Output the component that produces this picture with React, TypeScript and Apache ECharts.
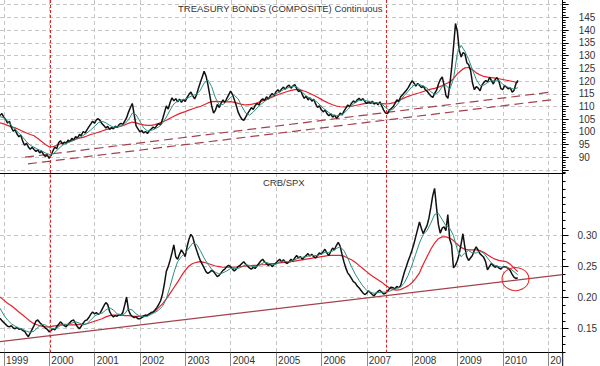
import React, { useEffect, useRef } from "react";
import * as echarts from "echarts";

// ---- axis extents (decimal years) ----
const X_MIN = 1998.912;
const X_MAX = 2011.317;
const SERIES_START = 1998.912;
const HALF_MONTH = 1 / 24;
const MONTH = 1 / 12;

const yearTicks = [1999, 2000, 2001, 2002, 2003, 2004, 2005, 2006, 2007, 2008, 2009, 2010, 2011];
const yearLabels = ["1999", "2000", "2001", "2002", "2003", "2004", "2005", "2006", "2007", "2008", "2009", "2010", "20"];

const tbondTicks = [85, 90, 95, 100, 105, 110, 115, 120, 125, 130, 135, 140, 145, 150];
const tbondLabels = [90, 95, 100, 105, 110, 115, 120, 125, 130, 135, 140, 145];
const crbTicks = [0.15, 0.2, 0.25, 0.3];
const crbLabels = [0.15, 0.2, 0.25, 0.3];

// vertical event markers (decimal years)
const markerYears = [2000.01, 2007.42];

// ---- TREASURY BONDS (semi-monthly) ----
const tbondPrice = [
  106.5, 107.2, 105.8, 104.9, 103.5, 104.2, 101.8, 100.3, 100.9, 99.2,
  98.1, 98.8, 96.4, 94.8, 95.6, 94.1, 93.2, 94.0, 93.1, 92.4,
  93.0, 91.8, 92.5, 91.2, 90.4, 91.0, 89.6, 90.8, 92.6, 94.1,
  93.4, 95.8, 96.6, 95.2, 96.0, 95.4, 96.8, 96.2, 97.5, 96.9,
  98.2, 97.6, 99.0, 98.6, 100.2, 99.6, 100.8, 102.0, 103.1, 104.2,
  103.4, 104.8, 105.2, 104.4, 103.2, 102.5, 101.6, 102.2, 101.0, 101.7,
  101.2, 102.3, 101.8, 102.9, 103.4, 103.0, 104.3, 105.6, 107.8, 109.6,
  111.2, 106.8, 102.4, 101.2, 100.0, 100.6, 99.6, 100.2, 99.4, 100.5,
  101.2, 101.9, 101.4, 102.6, 103.3, 102.8, 105.0, 107.6, 110.2, 109.0,
  111.6, 113.4, 112.2, 113.1, 111.8, 112.9, 111.6, 112.8, 112.0, 113.6,
  114.8, 115.7, 114.2, 113.0, 114.6, 117.2, 119.4, 121.6, 123.8, 122.0,
  118.6, 114.4, 110.2, 107.4, 108.6, 110.8, 109.6, 111.4, 112.6, 111.5,
  113.2, 114.6, 116.0, 114.8, 112.6, 110.4, 107.8, 106.2, 105.0, 104.6,
  105.8, 107.2, 108.4, 109.6, 108.8, 110.4, 111.2, 110.6, 112.3, 113.0,
  112.4, 113.8, 112.9, 114.2, 115.1, 114.3, 115.8, 116.6, 115.7, 116.9,
  117.6, 116.8, 117.9, 118.4, 117.2, 118.1, 118.6, 117.0, 115.8, 116.4,
  114.6, 113.2, 114.0, 112.6, 113.4, 112.1, 112.8, 111.0, 109.6, 110.3,
  108.7, 107.9, 108.6, 107.2, 106.4, 107.1, 105.8, 106.6, 105.4, 106.2,
  107.4, 106.7, 108.2, 109.4, 110.6, 110.0, 111.3, 112.2, 111.5, 112.6,
  113.2, 112.4, 113.1, 112.0, 111.2, 112.0, 111.3, 112.1, 110.9, 111.6,
  110.7, 111.8, 110.2, 108.6, 107.4, 107.2, 108.6, 109.2, 109.9, 111.2,
  112.6, 112.0, 113.8, 114.6, 115.5, 116.4, 117.4, 118.8, 120.1, 119.2,
  118.0, 119.0, 118.3, 117.4, 118.0, 116.6, 116.0, 115.0, 114.1, 113.6,
  115.2, 116.4, 118.8, 120.6, 121.6, 118.2, 114.2, 113.2, 118.6, 125.5,
  133.8, 142.6, 139.4, 132.0, 129.4, 131.2, 130.6, 127.2, 126.4, 124.0,
  119.2, 116.6, 117.8, 117.2, 116.2, 118.4, 119.4, 120.2, 119.6, 121.4,
  120.2, 118.8, 120.6, 121.4, 119.8, 117.0, 116.6, 118.2, 117.6, 116.9,
  117.3, 115.6, 116.4, 119.0, 120.3,
];

// monthly moving averages
const tbondFast = [
  106.0, 105.6, 104.4, 102.6, 101.0, 99.6, 98.0, 96.2, 94.8, 94.0,
  93.2, 92.6, 91.8, 91.2, 91.4, 92.6, 94.2, 95.2, 95.8, 96.4,
  97.0, 97.8, 98.6, 99.6, 100.8, 102.2, 103.6, 104.2, 103.6, 102.6,
  101.9, 102.0, 102.4, 103.2, 104.8, 107.4, 106.8, 104.2, 101.6, 100.4,
  100.6, 101.2, 102.0, 103.4, 105.8, 108.6, 111.0, 112.2, 112.6, 112.8,
  113.6, 114.4, 114.8, 116.4, 119.2, 120.4, 117.8, 113.4, 110.6, 110.8,
  112.0, 113.6, 114.4, 113.0, 110.0, 107.4, 106.6, 107.8, 109.4, 110.8,
  112.0, 113.0, 114.0, 115.0, 115.8, 116.6, 117.2, 117.8, 118.0, 117.2,
  115.6, 114.2, 113.2, 112.6, 111.6, 110.0, 108.8, 107.6, 106.8, 106.4,
  106.6, 107.4, 108.8, 110.4, 111.6, 112.4, 112.6, 112.2, 111.8, 111.6,
  111.3, 111.0, 109.6, 108.4, 109.0, 110.6, 112.6, 114.4, 116.0, 117.8,
  118.8, 118.6, 118.0, 117.2, 115.8, 114.8, 115.6, 117.8, 118.2, 116.8,
  121.0, 131.0, 134.0, 131.6, 128.4, 124.4, 120.6, 118.2, 118.4, 119.4,
  120.2, 120.0, 120.2, 118.8, 117.8, 117.2, 116.8, 117.4,
];

const tbondSlow = [
  103.6, 103.2, 102.6, 102.0, 101.6, 101.0, 100.3, 99.6, 99.0, 98.5,
  97.4, 96.3, 95.1, 94.2, 94.2, 94.8, 95.4, 95.8, 96.1, 96.6,
  97.2, 97.6, 97.9, 98.4, 99.0, 99.4, 99.9, 100.4, 100.9, 101.3,
  101.7, 101.9, 102.3, 102.8, 103.4, 103.9, 103.6, 103.1, 102.8, 102.6,
  102.6, 102.9, 103.4, 104.0, 104.6, 105.4, 106.2, 106.9, 107.5, 108.0,
  108.6, 109.1, 109.6, 110.0, 110.7, 111.4, 111.9, 112.0, 111.9, 111.8,
  111.8, 111.9, 111.6, 111.2, 110.8, 110.6, 110.7, 111.0, 111.4, 112.0,
  112.5, 113.1, 113.7, 114.3, 114.9, 115.4, 115.9, 116.3, 116.6, 116.6,
  116.3, 115.8, 115.1, 114.4, 113.6, 112.8, 112.0, 111.3, 110.7, 110.2,
  109.9, 109.8, 109.9, 110.1, 110.4, 110.7, 111.0, 111.2, 111.3, 111.3,
  111.2, 111.1, 111.0, 111.1, 111.4, 112.0, 112.7, 113.4, 114.0, 114.5,
  115.0, 115.4, 115.9, 116.4, 116.8, 117.1, 117.6, 118.2, 118.9, 119.6,
  121.0, 122.8, 124.1, 125.2, 125.3, 124.4, 123.2, 122.4, 121.8, 121.5,
  121.3, 121.1, 120.9, 120.6, 120.3, 120.0, 119.7, 119.4,
];

// dashed channel lines [year, value]
const tbondChannelUpper = [[1999.463, 90.1], [2011.074, 115.7]];
const tbondChannelLower = [[1999.529, 87.5], [2011.147, 112.8]];

// ---- CRB/SPX (semi-monthly) ----
const crbPrice = [
  0.167, 0.163, 0.160, 0.157, 0.154, 0.153, 0.155, 0.151, 0.150, 0.152,
  0.149, 0.150, 0.147, 0.146, 0.141, 0.137, 0.143, 0.149, 0.155, 0.162,
  0.164, 0.160, 0.157, 0.154, 0.151, 0.149, 0.145, 0.147, 0.150, 0.148,
  0.153, 0.157, 0.161, 0.158, 0.155, 0.153, 0.157, 0.160, 0.163, 0.164,
  0.158, 0.153, 0.150, 0.154, 0.159, 0.163, 0.164, 0.168, 0.173, 0.177,
  0.174, 0.176, 0.173, 0.175, 0.181, 0.187, 0.192, 0.189, 0.178, 0.172,
  0.169, 0.171, 0.170, 0.173, 0.172, 0.176, 0.188, 0.201, 0.180, 0.173,
  0.170, 0.168, 0.169, 0.166, 0.166, 0.168, 0.170, 0.172, 0.171, 0.174,
  0.176, 0.177, 0.180, 0.184, 0.189, 0.195, 0.206, 0.222, 0.242, 0.250,
  0.260, 0.272, 0.285, 0.266, 0.262, 0.270, 0.277, 0.272, 0.266, 0.282,
  0.294, 0.302, 0.298, 0.286, 0.277, 0.268, 0.260, 0.254, 0.248, 0.242,
  0.239, 0.241, 0.244, 0.242, 0.238, 0.234, 0.236, 0.240, 0.244, 0.246,
  0.250, 0.252, 0.250, 0.246, 0.243, 0.246, 0.250, 0.252, 0.255, 0.258,
  0.254, 0.251, 0.248, 0.246, 0.249, 0.247, 0.251, 0.255, 0.259, 0.262,
  0.258, 0.255, 0.252, 0.254, 0.250, 0.253, 0.256, 0.259, 0.262, 0.258,
  0.261, 0.257, 0.255, 0.258, 0.262, 0.259, 0.264, 0.268, 0.264, 0.266,
  0.262, 0.265, 0.268, 0.271, 0.267, 0.270, 0.266, 0.264, 0.268, 0.272,
  0.270, 0.274, 0.278, 0.272, 0.268, 0.274, 0.280, 0.277, 0.284, 0.289,
  0.283, 0.270, 0.258, 0.248, 0.240, 0.236, 0.231, 0.226, 0.224, 0.219,
  0.216, 0.212, 0.208, 0.205, 0.207, 0.211, 0.208, 0.205, 0.203, 0.207,
  0.210, 0.212, 0.209, 0.206, 0.207, 0.210, 0.214, 0.217, 0.216, 0.214,
  0.218, 0.216, 0.219, 0.230, 0.241, 0.250, 0.259, 0.267, 0.276, 0.286,
  0.298, 0.310, 0.322, 0.312, 0.303, 0.310, 0.316, 0.328, 0.345, 0.364,
  0.376, 0.346, 0.318, 0.304, 0.312, 0.314, 0.308, 0.334, 0.294, 0.285,
  0.248, 0.252, 0.259, 0.270, 0.286, 0.303, 0.282, 0.266, 0.260, 0.264,
  0.268, 0.276, 0.282, 0.277, 0.271, 0.268, 0.265, 0.258, 0.245, 0.250,
  0.255, 0.252, 0.249, 0.251, 0.248, 0.246, 0.249, 0.250, 0.249, 0.247,
  0.244, 0.238, 0.233, 0.231, 0.232,
];

const crbFast = [
  0.183, 0.172, 0.164, 0.158, 0.154, 0.151, 0.149, 0.146, 0.144, 0.146,
  0.152, 0.157, 0.156, 0.152, 0.150, 0.151, 0.155, 0.157, 0.157, 0.159,
  0.161, 0.159, 0.156, 0.158, 0.164, 0.170, 0.174, 0.175, 0.180, 0.184,
  0.180, 0.174, 0.172, 0.174, 0.182, 0.180, 0.174, 0.170, 0.169, 0.170,
  0.173, 0.176, 0.180, 0.186, 0.198, 0.218, 0.240, 0.258, 0.266, 0.272,
  0.280, 0.288, 0.286, 0.276, 0.264, 0.254, 0.246, 0.241, 0.238, 0.240,
  0.243, 0.247, 0.247, 0.247, 0.250, 0.253, 0.252, 0.250, 0.250, 0.254,
  0.257, 0.256, 0.253, 0.254, 0.258, 0.259, 0.258, 0.258, 0.261, 0.264,
  0.265, 0.266, 0.268, 0.268, 0.268, 0.270, 0.273, 0.273, 0.275, 0.279,
  0.282, 0.276, 0.264, 0.250, 0.238, 0.228, 0.219, 0.212, 0.209, 0.207,
  0.208, 0.209, 0.209, 0.210, 0.213, 0.215, 0.217, 0.224, 0.236, 0.252,
  0.270, 0.288, 0.302, 0.308, 0.320, 0.334, 0.336, 0.326, 0.316, 0.312,
  0.300, 0.278, 0.266, 0.272, 0.276, 0.272, 0.272, 0.275, 0.272, 0.264,
  0.256, 0.252, 0.250, 0.249, 0.249, 0.247, 0.242, 0.237,
];

const crbSlow = [
  0.201, 0.196, 0.191, 0.187, 0.182, 0.177, 0.172, 0.167, 0.162, 0.158,
  0.156, 0.154, 0.153, 0.153, 0.154, 0.155, 0.156, 0.156, 0.156, 0.156,
  0.156, 0.157, 0.157, 0.158, 0.160, 0.162, 0.164, 0.166, 0.169, 0.171,
  0.172, 0.172, 0.172, 0.171, 0.171, 0.170, 0.170, 0.170, 0.171, 0.172,
  0.175, 0.178, 0.184, 0.190, 0.198, 0.207, 0.216, 0.225, 0.235, 0.244,
  0.251, 0.255, 0.257, 0.258, 0.257, 0.255, 0.253, 0.251, 0.250, 0.249,
  0.249, 0.249, 0.249, 0.250, 0.250, 0.251, 0.251, 0.252, 0.252, 0.253,
  0.253, 0.254, 0.255, 0.255, 0.256, 0.257, 0.257, 0.258, 0.259, 0.260,
  0.261, 0.262, 0.263, 0.264, 0.265, 0.266, 0.267, 0.268, 0.268, 0.268,
  0.268, 0.267, 0.264, 0.261, 0.257, 0.252, 0.247, 0.242, 0.237, 0.233,
  0.229, 0.225, 0.220, 0.216, 0.213, 0.212, 0.213, 0.216, 0.219, 0.224,
  0.231, 0.240, 0.254, 0.266, 0.278, 0.288, 0.295, 0.298, 0.298, 0.296,
  0.292, 0.286, 0.281, 0.278, 0.277, 0.277, 0.277, 0.276, 0.273, 0.269,
  0.265, 0.262, 0.260, 0.259, 0.258, 0.254, 0.248, 0.242,
];

const crbTrend = [[1998.912, 0.129], [2011.317, 0.237]];
const crbCircle = [2010.28, 0.23];

// minor tick positions
const tbondMinorTicks: number[] = [];
for (let v = 84; v <= 151; v += 1) tbondMinorTicks.push(v);
const crbMinorTicks: number[] = [];
for (let k = 0; k <= 23; k++) crbMinorTicks.push(+(0.1125 + k * 0.0125).toFixed(4));

const withDates = (vals: number[], step: number) =>
  vals.map((v, i) => [SERIES_START + i * step, v]);

const FONT = "'Liberation Sans', Arial, sans-serif";
const TEXT = "#333";
const GRID_LINE = { color: "#c6c6c6", type: [4, 3] as any, width: 1 };
const BLACK = "#111";
const TEAL = "#2a8f7e";
const RED = "#e52129";
const TREND = "#a3424d";
const VLINE = "#d8262b";

export default function App() {
  const ref = useRef<HTMLDivElement>(null);

  useEffect(() => {
    if (!ref.current) return;
    const chart = echarts.init(ref.current, undefined, { renderer: "svg" });

    const GRID_W = 562.7;
    const vMark = {
      silent: true,
      symbol: ["none", "none"],
      label: { show: false },
      lineStyle: { color: VLINE, type: [3, 2], width: 1, opacity: 1 },
      emphasis: { disabled: true },
      data: markerYears.map((x) => ({ xAxis: x, lineStyle: { color: VLINE } })),
    };

    const lineBase = (name: string, xi: number, yi: number, data: any, color: string, width: number) => ({
      name,
      type: "line",
      xAxisIndex: xi,
      yAxisIndex: yi,
      data,
      showSymbol: false,
      symbol: "none",
      silent: true,
      lineStyle: { color, width },
      z: 3,
    });

    const option: any = {
      animation: false,
      backgroundColor: "#fff",
      textStyle: { fontFamily: FONT },
      title: [
        {
          text: "TREASURY BONDS (COMPOSITE) Continuous",
          left: 178,
          top: 3,
          padding: 0,
          textStyle: { fontSize: 9.5, fontWeight: "normal", color: TEXT, fontFamily: FONT },
        },
        {
          text: "CRB/SPX",
          left: 263,
          top: 177,
          padding: 0,
          textStyle: { fontSize: 9.5, fontWeight: "normal", color: TEXT, fontFamily: FONT },
        },
      ],
      grid: [
        { left: 0, top: 0, width: GRID_W, height: 173, containLabel: false },
        { left: 0, top: 173, width: GRID_W, height: 179.7, containLabel: false },
      ],
      xAxis: [
        {
          type: "value",
          gridIndex: 0,
          min: X_MIN,
          max: X_MAX,
          axisLine: { show: true, lineStyle: { color: "#000", width: 1 } },
          axisTick: { show: false, customValues: yearTicks },
          axisLabel: { show: false, customValues: yearTicks },
          splitLine: { show: true, lineStyle: GRID_LINE },
        },
        {
          type: "value",
          gridIndex: 1,
          min: X_MIN,
          max: X_MAX,
          axisLine: { show: true, lineStyle: { color: "#000", width: 1 } },
          axisTick: { show: true, length: 14, customValues: yearTicks, lineStyle: { color: "#888" } },
          axisLabel: {
            show: true,
            customValues: yearTicks,
            align: "left",
            margin: 3,
            padding: [0, 0, 0, 2],
            fontSize: 10,
            color: TEXT,
            fontFamily: FONT,
            formatter: (v: number) => {
              const idx = yearTicks.indexOf(Math.round(v));
              return idx >= 0 ? yearLabels[idx] : "";
            },
          },
          splitLine: { show: true, lineStyle: GRID_LINE },
        },
      ],
      yAxis: [
        {
          type: "value",
          gridIndex: 0,
          position: "right",
          min: 83.9,
          max: 151.8,
          axisLine: { show: true, lineStyle: { color: "#000", width: 1 } },
          axisTick: { show: true, length: 6, customValues: tbondTicks, lineStyle: { color: "#000" } },
          axisLabel: {
            show: true,
            customValues: tbondLabels,
            margin: 16,
            fontSize: 10,
            color: TEXT,
            fontFamily: FONT,
          },
          splitLine: { show: true, lineStyle: GRID_LINE },
        },
        {
          type: "value",
          gridIndex: 0,
          position: "right",
          min: 83.9,
          max: 151.8,
          axisLine: { show: false },
          axisTick: { show: true, length: 3, customValues: tbondMinorTicks, lineStyle: { color: "#000" } },
          axisLabel: { show: false },
          splitLine: { show: false },
        },
        {
          type: "value",
          gridIndex: 1,
          position: "right",
          min: 0.1113,
          max: 0.4009,
          axisLine: { show: true, lineStyle: { color: "#000", width: 1 } },
          axisTick: { show: true, length: 6, customValues: crbTicks, lineStyle: { color: "#000" } },
          axisLabel: {
            show: true,
            customValues: crbLabels,
            margin: 15,
            fontSize: 10,
            color: TEXT,
            fontFamily: FONT,
            formatter: (v: number) => v.toFixed(2),
          },
          splitLine: { show: true, lineStyle: GRID_LINE },
        },
        {
          type: "value",
          gridIndex: 1,
          position: "right",
          min: 0.1113,
          max: 0.4009,
          axisLine: { show: false },
          axisTick: { show: true, length: 3, customValues: crbMinorTicks, lineStyle: { color: "#000" } },
          axisLabel: { show: false },
          splitLine: { show: false },
        },
      ],
      series: [
        { ...lineBase("tbond-upper", 0, 0, tbondChannelUpper, TREND, 1.2), lineStyle: { color: TREND, width: 1.2, type: [9, 5] } },
        { ...lineBase("tbond-lower", 0, 0, tbondChannelLower, TREND, 1.2), lineStyle: { color: TREND, width: 1.2, type: [9, 5] } },
        {
          name: "tbond-markers",
          type: "line",
          xAxisIndex: 0,
          yAxisIndex: 0,
          data: [],
          silent: true,
          z: 5,
          color: VLINE,
          markLine: vMark,
        },
        lineBase("tbond-slow", 0, 0, withDates(tbondSlow, MONTH), RED, 1.2),
        lineBase("tbond", 0, 0, withDates(tbondPrice, HALF_MONTH), BLACK, 1.5),
        lineBase("tbond-fast", 0, 0, withDates(tbondFast, MONTH), TEAL, 1),

        lineBase("crb-trend", 1, 2, crbTrend, TREND, 1.2),
        {
          name: "crb-markers",
          type: "line",
          xAxisIndex: 1,
          yAxisIndex: 2,
          data: [],
          silent: true,
          z: 5,
          color: VLINE,
          markLine: vMark,
        },
        {
          ...lineBase("crb-slow", 1, 2, withDates(crbSlow, MONTH), RED, 1.2),
          markPoint: {
            silent: true,
            symbol: "circle",
            symbolSize: [27, 23],
            label: { show: false },
            itemStyle: { color: "rgba(0,0,0,0)", borderColor: "#e02828", borderWidth: 1 },
            data: [{ coord: crbCircle }],
          },
        },
        lineBase("crb", 1, 2, withDates(crbPrice, HALF_MONTH), BLACK, 1.5),
        lineBase("crb-fast", 1, 2, withDates(crbFast, MONTH), TEAL, 1),
      ],
      graphic: [
        {
          type: "line",
          silent: true,
          shape: { x1: GRID_W, y1: 352.7, x2: GRID_W, y2: 366 },
          style: { stroke: "#000", lineWidth: 1 },
        },
      ],
    };

    chart.setOption(option);
    return () => chart.dispose();
  }, []);

  return (
    <div
      ref={ref}
      style={{ position: "fixed", left: 0, top: 0, width: 600, height: 366, background: "#fff" }}
    />
  );
}
